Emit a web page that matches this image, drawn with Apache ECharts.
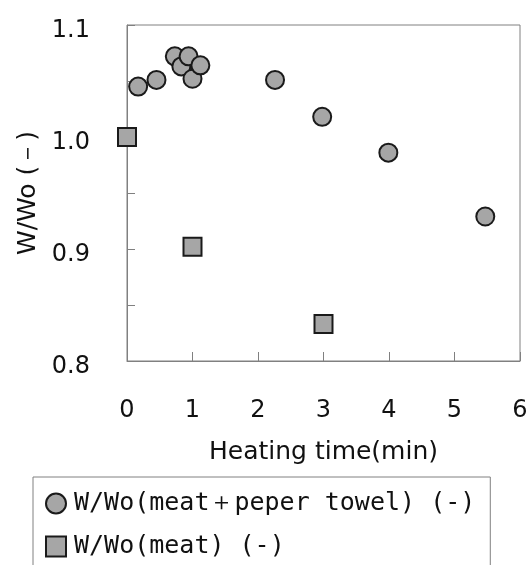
<!DOCTYPE html>
<html>
<head>
<meta charset="utf-8" />
<title>W/Wo vs heating time</title>
<script src="https://cdn.jsdelivr.net/npm/echarts@6/dist/echarts.min.js"></script>
<style>
  html, body { margin: 0; padding: 0; background: #fff; }
  #chart { width: 532px; height: 565px; }
</style>
</head>
<body>
<div id="chart"></div>
<script>
// meat + paper towel
const towelTime = [0.17, 0.45, 0.73, 0.83, 0.94, 1.0, 1.12, 2.26, 2.98, 3.99, 5.47];
const towelRatio = [1.045, 1.051, 1.072, 1.063, 1.072, 1.052, 1.064, 1.051, 1.018, 0.986, 0.929];
// meat only
const meatTime = [0, 1, 3];
const meatRatio = [1.0, 0.902, 0.833];

const seriesNames = ["W/Wo(meat＋peper towel) (-)", "W/Wo(meat) (-)"];

const axisColor = "#808080";
const markerFill = "#a6a6a6";
const markerBorder = "#1a1a1a";

function pairs(xs, ys) {
  return xs.map((x, i) => [x, ys[i]]);
}

const chart = echarts.init(document.getElementById("chart"), null, { renderer: "canvas" });

chart.setOption({
  animation: false,
  grid: {
    left: 127,
    right: 12,
    top: 25,
    bottom: 204,
    show: true,
    borderColor: axisColor,
    borderWidth: 1,
  },
  legend: {
    orient: "vertical",
    left: 33,
    top: 477,
    // 留够高度, 不让图例换列 (下边框在画面外)
    height: 200,
    padding: [14, 15, 14, 12],
    itemGap: 18,
    itemWidth: 20,
    itemHeight: 20,
    borderColor: axisColor,
    borderWidth: 1,
    data: [
      { name: seriesNames[0], icon: "circle" },
      { name: seriesNames[1], icon: "rect" },
    ],
    textStyle: {
      fontFamily: "DejaVu Sans Mono",
      fontSize: 25,
      color: "#111",
      padding: [0, 0, 0, 3],
    },
  },
  xAxis: {
    type: "value",
    min: 0,
    max: 6,
    interval: 1,
    name: "Heating time(min)",
    nameLocation: "middle",
    nameGap: 79,
    nameTextStyle: { fontFamily: "DejaVu Sans", fontSize: 25, color: "#111" },
    axisLine: { show: true, lineStyle: { color: axisColor } },
    //刻度朝内
    axisTick: { show: true, inside: true, length: 9, lineStyle: { color: axisColor } },
    axisLabel: { margin: 38, fontFamily: "DejaVu Sans", fontSize: 24, color: "#111" },
    splitLine: { show: false },
  },
  yAxis: {
    type: "value",
    min: 0.8,
    max: 1.1,
    interval: 0.05,
    name: "W/Wo (－)",
    nameLocation: "middle",
    nameRotate: 90,
    nameGap: 86,
    nameTextStyle: { fontFamily: "DejaVu Sans", fontSize: 25, color: "#111" },
    axisLine: { show: true, lineStyle: { color: axisColor } },
    axisTick: { show: true, inside: true, length: 8, lineStyle: { color: axisColor } },
    axisLabel: {
      margin: 37,
      fontFamily: "DejaVu Sans",
      fontSize: 24,
      color: "#111",
      // 标签比刻度略低
      verticalAlign: "top",
      lineHeight: 12,
      // only label every 0.1
      formatter: (v) => (Math.round(v * 20) % 2 === 0 ? v.toFixed(1) : ""),
    },
    splitLine: { show: false },
  },
  series: [
    {
      name: seriesNames[0],
      type: "scatter",
      symbol: "circle",
      symbolSize: 18,
      data: pairs(towelTime, towelRatio),
      itemStyle: { color: markerFill, borderColor: markerBorder, borderWidth: 2, opacity: 1 },
    },
    {
      name: seriesNames[1],
      type: "scatter",
      symbol: "rect",
      symbolSize: 18,
      data: pairs(meatTime, meatRatio),
      itemStyle: { color: markerFill, borderColor: markerBorder, borderWidth: 2, opacity: 1 },
    },
  ],
});
</script>
</body>
</html>
